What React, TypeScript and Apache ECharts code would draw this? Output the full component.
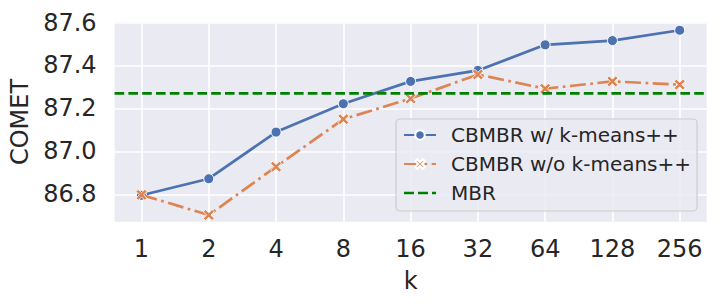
import React, { useEffect, useRef } from "react";
import * as echarts from "echarts";

const kLabels = ["1", "2", "4", "8", "16", "32", "64", "128", "256"];
const withKmeansPP = [86.796, 86.873, 87.09, 87.222, 87.326, 87.377, 87.496, 87.516, 87.564];
const withoutKmeansPP = [86.798, 86.704, 86.929, 87.15, 87.246, 87.358, 87.292, 87.326, 87.311];
const mbrValue = 87.27;
const yTicks = [86.8, 87.0, 87.2, 87.4, 87.6];
const seriesNames = ["CBMBR w/ k-means++", "CBMBR w/o k-means++", "MBR"];

const X_MIN = -0.4;
const X_MAX = 8.4;
const Y_MIN = 86.673;
const Y_MAX = 87.601;

const FONT = "DejaVu Sans";
const TEXT = "#262626";
const X_PATH =
  "path://M0,1 L1,0 L2.5,1.5 L4,0 L5,1 L3.5,2.5 L5,4 L4,5 L2.5,3.5 L1,5 L0,4 L1.5,2.5 Z";
const DASH_ICON =
  "path://M0,0 h10 v2.6 h-10 Z M14,0 h10 v2.6 h-10 Z M28,0 h4 v2.6 h-4 Z";

export default function App() {
  const ref = useRef<HTMLDivElement>(null);
  useEffect(() => {
    if (!ref.current) return;
    const chart = echarts.init(ref.current, undefined, { renderer: "svg" });
    const idx = kLabels.map((_, i) => i);
    chart.setOption({
      animation: false,
      textStyle: { fontFamily: FONT, color: TEXT },
      grid: {
        left: 114.6,
        top: 22.3,
        width: 592,
        height: 199.4,
        show: true,
        backgroundColor: "#EAEAF2",
        borderWidth: 0,
      },
      legend: {
        left: 396,
        top: 119,
        orient: "vertical",
        data: [
          { name: seriesNames[0] },
          { name: seriesNames[1] },
          { name: seriesNames[2], icon: DASH_ICON, itemStyle: { color: "#008000" } },
        ],
        itemWidth: 32,
        itemHeight: 12,
        itemGap: 9,
        padding: [6, 6, 8, 7],
        backgroundColor: "rgba(234,234,242,0.8)",
        borderColor: "#cccccc",
        borderWidth: 1.2,
        borderRadius: 4,
        textStyle: {
          fontFamily: FONT,
          fontSize: 20,
          color: TEXT,
          padding: [0, 0, 0, 10],
        },
      },
      xAxis: {
        type: "value",
        min: X_MIN,
        max: X_MAX,
        name: "k",
        nameLocation: "middle",
        nameGap: 47,
        nameTextStyle: { fontFamily: FONT, fontSize: 24, color: TEXT },
        axisLine: { show: false },
        axisTick: { show: false, customValues: idx },
        axisLabel: {
          customValues: idx,
          formatter: (v: number) => kLabels[Math.round(v)] ?? "",
          fontFamily: FONT,
          fontSize: 24,
          color: TEXT,
          margin: 15,
        },
        splitLine: { show: true, lineStyle: { color: "#ffffff", width: 1.6 } },
      },
      yAxis: {
        type: "value",
        min: Y_MIN,
        max: Y_MAX,
        name: "COMET",
        nameLocation: "middle",
        nameGap: 80,
        nameTextStyle: { fontFamily: FONT, fontSize: 24, color: TEXT },
        axisLine: { show: false },
        axisTick: { show: false, customValues: yTicks },
        axisLabel: {
          customValues: yTicks,
          formatter: (v: number) => v.toFixed(1),
          fontFamily: FONT,
          fontSize: 24,
          color: TEXT,
          margin: 18,
        },
        splitLine: { show: true, lineStyle: { color: "#ffffff", width: 1.6 } },
      },
      series: [
        {
          name: seriesNames[0],
          type: "line",
          data: withKmeansPP.map((v, i) => [i, v]),
          symbol: "circle",
          symbolSize: 10,
          lineStyle: { color: "#4C72B0", width: 2.7 },
          itemStyle: { color: "#4C72B0", borderColor: "#ffffff", borderWidth: 1 },
          z: 2,
        },
        {
          name: seriesNames[1],
          type: "line",
          data: withoutKmeansPP.map((v, i) => [i, v]),
          symbol: X_PATH,
          symbolSize: 11,
          lineStyle: { color: "#DD8452", width: 2.7, type: [16, 4.5, 2.7, 4.5] },
          itemStyle: { color: "#DD8452", borderColor: "#ffffff", borderWidth: 0.8 },
          z: 3,
        },
        {
          name: seriesNames[2],
          type: "line",
          data: [
            [X_MIN, mbrValue],
            [X_MAX, mbrValue],
          ],
          symbol: "none",
          lineStyle: { color: "#008000", width: 2.7, type: [9.6, 4.2] },
          itemStyle: { color: "#008000" },
          z: 4,
        },
      ],
    });
    return () => chart.dispose();
  }, []);
  return <div ref={ref} style={{ width: 722, height: 307, position: "absolute", left: 0, top: 0 }} />;
}
